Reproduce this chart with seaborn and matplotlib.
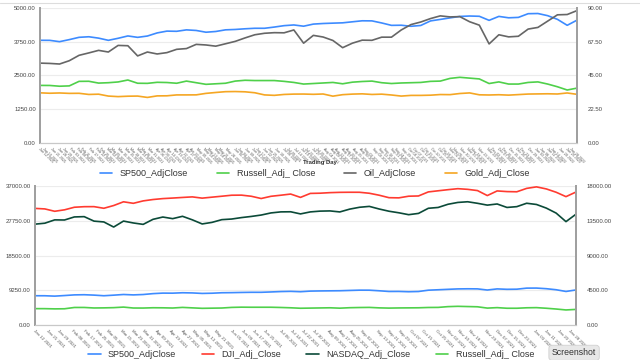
import pandas as pd
import matplotlib.pyplot as plt
import seaborn as sns
from matplotlib.lines import Line2D

# -----------------------------
# Data (weekly readings, Jan 12 2021 - Feb 1 2022)
# -----------------------------
week_dates = pd.date_range("2021-01-12", periods=56, freq="7D")

sp500 = [3801, 3799, 3750, 3826, 3911, 3932, 3881, 3800, 3875, 3962,
         3910, 3959, 4074, 4141, 4134, 4187, 4165, 4100, 4127, 4188,
         4202, 4227, 4246, 4246, 4291, 4343, 4369, 4323, 4401, 4423,
         4436, 4448, 4486, 4523, 4520, 4443, 4354, 4359, 4320, 4350,
         4519, 4574, 4631, 4685, 4700, 4690, 4540, 4686, 4634, 4649,
         4786, 4793, 4713, 4577, 4356, 4546]

russell = [2130, 2128, 2100, 2112, 2280, 2283, 2216, 2230, 2258, 2330,
           2210, 2206, 2245, 2237, 2210, 2290, 2230, 2170, 2190, 2210,
           2290, 2320, 2310, 2310, 2310, 2280, 2240, 2180, 2200, 2220,
           2240, 2190, 2250, 2275, 2290, 2230, 2200, 2220, 2230, 2240,
           2280, 2290, 2390, 2430, 2400, 2370, 2200, 2260, 2180, 2180,
           2240, 2260, 2180, 2080, 1960, 2030]

gold = [1855, 1840, 1850, 1835, 1838, 1795, 1805, 1735, 1715, 1730,
        1735, 1685, 1742, 1745, 1778, 1778, 1780, 1835, 1868, 1898,
        1903, 1893, 1858, 1778, 1762, 1795, 1808, 1810, 1800, 1812,
        1732, 1787, 1808, 1818, 1795, 1806, 1775, 1735, 1760, 1760,
        1768, 1792, 1788, 1830, 1852, 1782, 1775, 1785, 1770, 1790,
        1810, 1815, 1820, 1812, 1850, 1800]

oil = [53.2, 53.0, 52.6, 54.8, 58.4, 60.0, 61.7, 60.6, 65.0, 64.8,
       58.0, 60.6, 59.3, 60.2, 62.4, 62.9, 65.7, 65.3, 64.5, 66.1,
       67.7, 70.0, 72.1, 73.1, 73.5, 73.4, 75.3, 66.5, 71.7, 70.6,
       68.3, 63.5, 66.5, 68.5, 68.4, 70.5, 70.5, 75.3, 78.9, 80.6,
       82.9, 84.7, 84.0, 84.2, 80.8, 78.5, 66.0, 72.1, 70.7, 71.1,
       75.9, 77.0, 81.2, 85.4, 85.6, 88.2]

dji = [31068, 30930, 30300, 30687, 31375, 31523, 31537, 31100, 31832, 32826,
       32423, 33066, 33430, 33677, 33821, 33984, 34133, 33800, 34060, 34312,
       34575, 34600, 34299, 33700, 34292, 34577, 34888, 34000, 35058, 35116,
       35264, 35343, 35366, 35361, 35100, 34578, 33920, 33874, 34314, 34378,
       35457, 35757, 36052, 36320, 36142, 35814, 34484, 35719, 35544, 35492,
       36398, 36800, 36252, 35368, 34200, 35405]

nasdaq = [13072, 13197, 13626, 13612, 14007, 14047, 13465, 13359, 12700, 13471,
          13227, 13045, 13698, 13996, 13786, 14090, 13633, 13100, 13303, 13657,
          13736, 13924, 14073, 14253, 14528, 14663, 14677, 14400, 14660, 14761,
          14788, 14656, 15019, 15259, 15374, 15037, 14747, 14546, 14300, 14465,
          15129, 15236, 15649, 15886, 15974, 15775, 15538, 15687, 15237, 15341,
          15781, 15622, 15153, 14506, 13400, 14346]

# NYSE trading days for the category-style tick labels
holidays = ["2021-01-18", "2021-02-15", "2021-04-02", "2021-05-31", "2021-07-05",
            "2021-09-06", "2021-11-25", "2021-12-24", "2022-01-17"]
trading_days = pd.bdate_range("2021-01-12", "2022-02-01", freq="C", holidays=holidays)

top_left_ticks = [0, 1250, 2500, 3750, 5000]
top_right_ticks = [0, 22.5, 45, 67.5, 90]
bot_left_ticks = [0, 9250, 18500, 27750, 37000]
bot_right_ticks = [0, 4500, 9000, 13500, 18000]

c_sp = "#3d8bff"
c_ru = "#4fd04a"
c_oil = "#666666"
c_gold = "#f5a623"
c_dji = "#ff3b30"
c_nas = "#0b4a38"

sns.set_style("white")
plt.rcParams["font.family"] = ["Liberation Sans", "DejaVu Sans"]

fig = plt.figure(figsize=(6.4, 3.6), dpi=100)
ax1 = fig.add_axes([0.0625, 0.603, 0.839, 0.375])
ax2 = fig.add_axes([0.0547, 0.097, 0.845, 0.386])


def style_pair(ax, axr, left_ticks, right_ticks, tick_dates, xfs):
    ax.set_ylim(left_ticks[0], left_ticks[-1])
    axr.set_ylim(right_ticks[0], right_ticks[-1])
    ax.set_yticks(left_ticks)
    ax.set_yticklabels([f"{v:.2f}" for v in left_ticks], fontsize=4.3, color="#444")
    axr.set_yticks(right_ticks)
    axr.set_yticklabels([f"{v:.2f}" for v in right_ticks], fontsize=4.3, color="#444")
    ax.set_xlim(trading_days[0], trading_days[-1])
    ax.set_xticks(tick_dates)
    ax.set_xticklabels([d.strftime("%b %d %Y") for d in tick_dates], rotation=-45,
                       ha="left", va="top", rotation_mode="anchor",
                       fontsize=xfs, color="#555")
    ax.grid(axis="y", color="#ececec", lw=0.8)
    ax.tick_params(length=0, pad=3)
    axr.tick_params(length=0, pad=8)
    for a in (ax, axr):
        a.set_xlabel("")
        a.set_ylabel("")
        a.spines["top"].set_visible(False)
        a.spines["left"].set_color("#a0a0a0")
        a.spines["left"].set_linewidth(1.4)
        a.spines["right"].set_color("#a0a0a0")
        a.spines["right"].set_linewidth(1.4)
        a.spines["bottom"].set_color("#c8c8c8")
        a.spines["bottom"].set_linewidth(0.8)


# -----------------------------
# Top chart
# -----------------------------
ax1r = ax1.twinx()
sns.lineplot(x=week_dates, y=sp500, ax=ax1, color=c_sp, lw=1.2, label="SP500_AdjClose")
sns.lineplot(x=week_dates, y=russell, ax=ax1, color=c_ru, lw=1.2, label="Russell_Adj_ Close")
sns.lineplot(x=week_dates, y=oil, ax=ax1r, color=c_oil, lw=1.2, label="Oil_AdjClose")
sns.lineplot(x=week_dates, y=gold, ax=ax1, color=c_gold, lw=1.2, label="Gold_Adj_Close")
style_pair(ax1, ax1r, top_left_ticks, top_right_ticks, trading_days[::3], 2.6)

h1, l1 = ax1.get_legend_handles_labels()
h2, l2 = ax1r.get_legend_handles_labels()
ax1.get_legend().remove()
ax1r.get_legend().remove()
handles = [h1[0], h1[1], h2[0], h1[2]]
labels = [l1[0], l1[1], l2[0], l1[2]]
fig.legend(handles, labels, loc="center", bbox_to_anchor=(0.492, 0.519), ncol=4,
           frameon=False, fontsize=6.5, columnspacing=3.2, handlelength=1.4,
           labelcolor="#333")
fig.text(0.5, 0.548, "Trading Day", fontsize=4.3, fontweight="bold", ha="center",
         va="center", color="#333")

# -----------------------------
# Bottom chart
# -----------------------------
ax2r = ax2.twinx()
sns.lineplot(x=week_dates, y=sp500, ax=ax2r, color=c_sp, lw=1.2, label="SP500_AdjClose")
sns.lineplot(x=week_dates, y=dji, ax=ax2, color=c_dji, lw=1.2, label="DJI_Adj_Close")
sns.lineplot(x=week_dates, y=nasdaq, ax=ax2r, color=c_nas, lw=1.2, label="NASDAQ_Adj_Close")
sns.lineplot(x=week_dates, y=russell, ax=ax2r, color=c_ru, lw=1.2, label="Russell_Adj_ Close")
style_pair(ax2, ax2r, bot_left_ticks, bot_right_ticks, trading_days[::6], 3.2)

h1, l1 = ax2.get_legend_handles_labels()
h2, l2 = ax2r.get_legend_handles_labels()
ax2.get_legend().remove()
ax2r.get_legend().remove()
handles = [h2[0], h1[0], h2[1], h2[2]]
labels = [l2[0], l1[0], l2[1], l2[2]]
fig.legend(handles, labels, loc="center", bbox_to_anchor=(0.486, 0.014), ncol=4,
           frameon=False, fontsize=6.5, columnspacing=2.8, handlelength=1.4,
           labelcolor="#333")

fig.text(0.897, 0.02, "Screenshot", fontsize=6.3, ha="center", va="center", color="#333",
         bbox=dict(boxstyle="round,pad=0.35", fc="#e8e8e8", ec="#d0d0d0", lw=0.6))
fig.add_artist(Line2D([0, 1], [0.993, 0.993], color="#dddddd", lw=0.8))

fig.savefig("out.png", dpi=100)
